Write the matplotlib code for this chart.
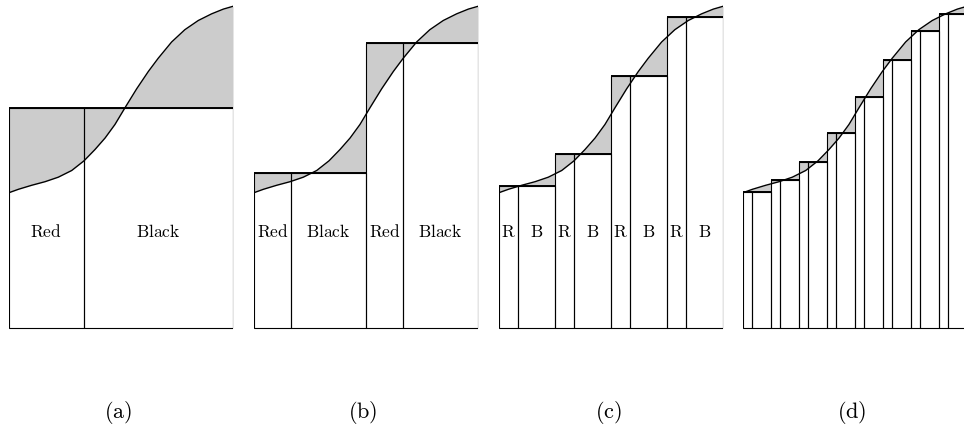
import numpy as np
import matplotlib.pyplot as plt
from matplotlib.patches import Polygon

plt.rcParams['mathtext.fontset'] = 'cm'

# curve (position along panel 0..1, height)
curve_t = [0.0, 0.042, 0.101, 0.161, 0.220, 0.280, 0.335, 0.384, 0.429, 0.473,
           0.518, 0.570, 0.622, 0.666, 0.726, 0.785, 0.845, 0.905, 0.957, 1.0]
curve_h = [135.3, 138.7, 142.7, 146.3, 150.8, 157.5, 167.2, 178.5, 190.0, 203.5,
           220.3, 239.2, 256.5, 269.7, 286.0, 298.3, 307.5, 314.2, 318.9, 321.7]

# step heights per panel
bars_a = [220]
bars_b = [155, 285]
bars_c = [142, 174, 252, 311]
bars_d = [136, 148, 166, 195, 231, 268, 297, 314]

labels_a = ['Red', 'Black']
labels_b = ['Red', 'Black', 'Red', 'Black']
labels_c = ['R', 'B'] * 4
labels_d = []

captions = ['(a)', '(b)', '(c)', '(d)']

W, H = 964, 433
panel_left = [9, 254, 499, 743]
panel_w = 224
gray = '0.8'


def draw_panel(ax, heights, labels):
    n = len(heights)
    w = 1.0 / n
    starts = np.arange(n) * w
    lefts = np.ravel([[s, s + w / 3] for s in starts])
    widths = np.tile([w / 3, 2 * w / 3], n)
    hs = np.repeat(heights, 2)

    # gray under the curve, then blank out the bars
    ax.fill_between(curve_t, curve_h, 0, color=gray, lw=0)
    ax.bar(lefts, hs, widths, align='edge', color='white', lw=0)

    # gray inside the bars but above the curve
    above = Polygon(list(zip(curve_t, curve_h)) + [(1, 500), (0, 500)],
                    closed=True, transform=ax.transData)
    for p in ax.bar(lefts, hs, widths, align='edge', color=gray, lw=0):
        p.set_clip_path(above)

    ax.bar(lefts, hs, widths, align='edge', fill=False,
           edgecolor='black', lw=0.8)
    ax.hlines(heights, starts, starts + w, color='black', lw=1.4)
    ax.plot(curve_t, curve_h, color='black', lw=1.0, solid_joinstyle='round')

    for x, bw, lab in zip(lefts, widths, labels):
        ax.text(x + bw / 2, 96, r'$\mathrm{%s}$' % lab, ha='center',
                va='center', fontsize=12.5)

    ax.set_xlim(0, 1)
    ax.set_ylim(-3, 328)
    ax.axis('off')


fig = plt.figure(figsize=(W / 100, H / 100), dpi=100)

for left, heights, labels, cap in zip(panel_left,
                                      [bars_a, bars_b, bars_c, bars_d],
                                      [labels_a, labels_b, labels_c, labels_d],
                                      captions):
    ax = fig.add_axes([left / W, (H - 331) / H, panel_w / W, 331 / H])
    draw_panel(ax, heights, labels)
    fig.text((left + panel_w / 2 - 3) / W, 1 - 412 / H,
             r'$\mathrm{%s}$' % cap, ha='center', va='center', fontsize=16)

fig.savefig('out.png', dpi=100)
